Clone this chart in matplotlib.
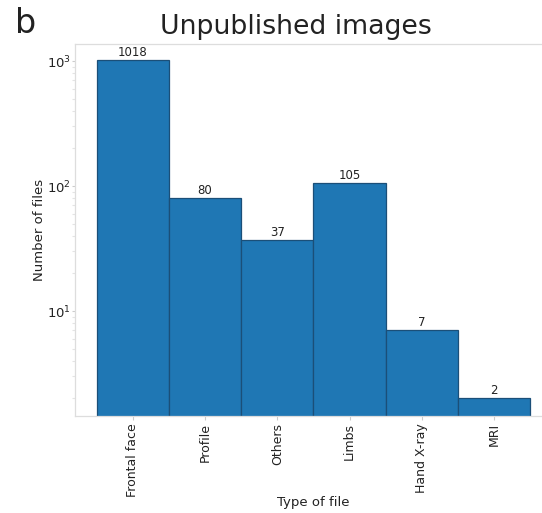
import matplotlib.pyplot as plt

categories = ["Frontal face", "Profile", "Others", "Limbs", "Hand X-ray", "MRI"]
counts = [1018, 80, 37, 105, 7, 2]

fig = plt.figure(figsize=(5.42, 5.13), dpi=100)
ax = fig.add_axes([0.1384, 0.189, 0.88, 0.725])

bars = ax.bar(range(len(categories)), counts, width=1.0, color="#1f77b4",
              edgecolor="#1b4f78", linewidth=0.9)
ax.set_yscale("log")
ax.set_ylim(1.445, 1368)
ax.set_xlim(-0.8, 5.8)

for b, v in zip(bars, counts):
    ax.annotate(str(v), (b.get_x() + b.get_width() / 2, v), xytext=(0, 1),
                textcoords="offset points", ha="center", va="bottom",
                fontsize=8.5, color="#222222")

ax.set_xticks(range(len(categories)))
ax.set_xticklabels(categories, rotation=90, fontsize=9, color="#222222")
ax.tick_params(axis="both", which="both", color="#cccccc", length=3, width=0.8)
ax.tick_params(axis="x", pad=2)
ax.tick_params(axis="y", which="major", labelsize=9.5, labelcolor="#222222",
               length=2, pad=1)
ax.tick_params(axis="y", which="minor", length=2, color="#e4e4e4")

for s in ax.spines.values():
    s.set_color("#dddddd")
    s.set_linewidth(0.9)

ax.set_xlabel("Type of file", fontsize=9.5, color="#222222")
ax.xaxis.set_label_coords(0.5, -0.215)
ax.set_ylabel("Number of files", fontsize=9.5, color="#222222")
ax.yaxis.set_label_coords(-0.06, 0.5)
ax.set_title("Unpublished images", fontsize=19.3, color="#222222", pad=7, x=0.463)
fig.text(0.027, 0.955, "b", fontsize=24, color="#222222", va="center", ha="left")

fig.savefig("out.png", dpi=100)
